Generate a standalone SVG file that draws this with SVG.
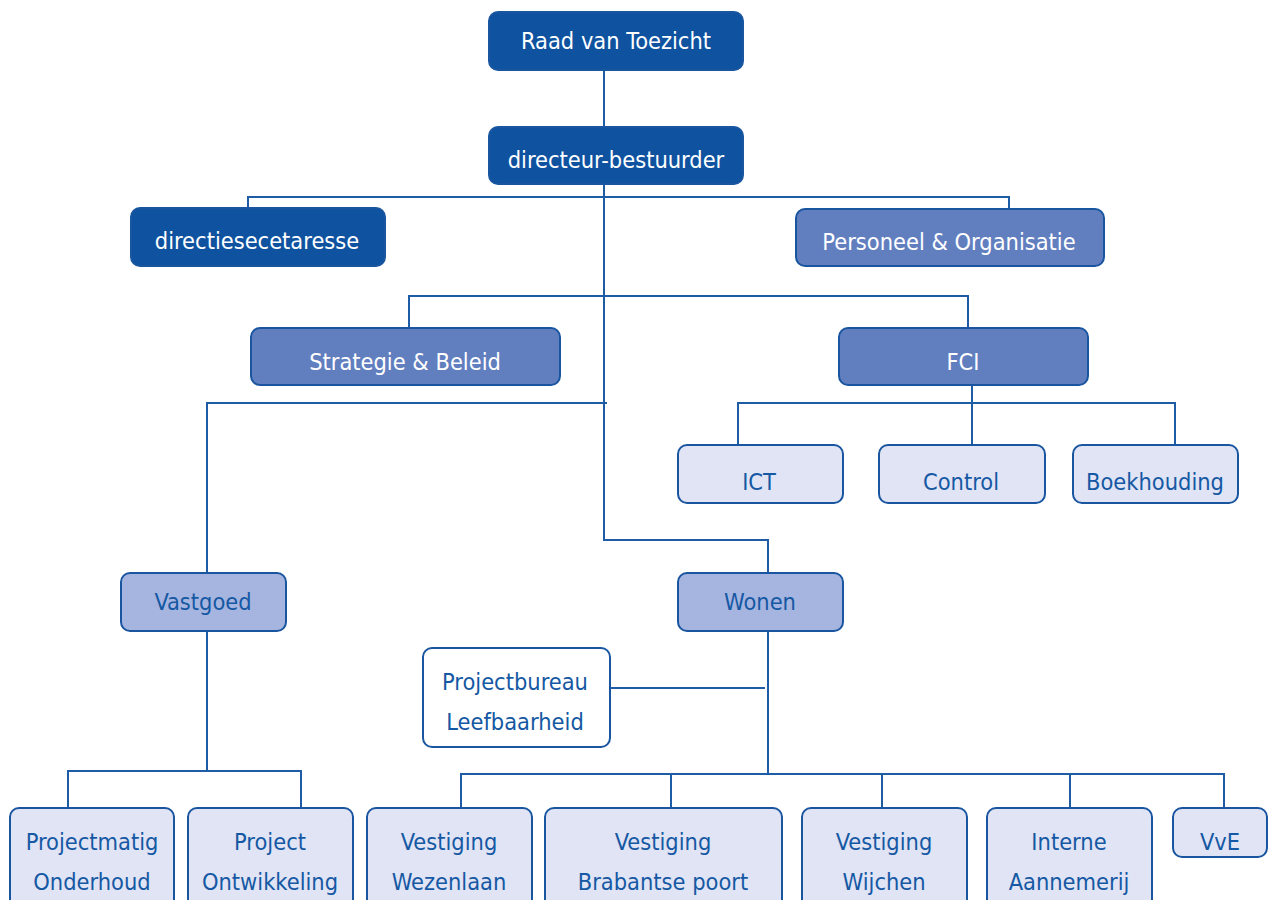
<svg xmlns="http://www.w3.org/2000/svg" width="1268" height="900" viewBox="0 0 1268 900">
<style>
.n rect{stroke:#1A56A0;stroke-width:2}
.d rect{fill:#0E52A0}
.m rect{fill:#617EBF}
.l rect{fill:#A6B5E0}
.p rect{fill:#E0E4F5}
.w rect{fill:#FFFFFF}
text{font-family:"DejaVu Sans Condensed","DejaVu Sans",sans-serif;font-size:23.4px;text-anchor:middle}
.d text,.m text{fill:#FFFFFF}
.l text,.p text,.w text{fill:#1558A3}
#connectors path{fill:none;stroke:#1E5CA6;stroke-width:2}
</style>
<g id="connectors">
<path d="M604 70V540H768V573"/>
<path d="M248 208V197H1009V209"/>
<path d="M409 328V296H968V328"/>
<path d="M207 573V403H607"/>
<path d="M972 385V445M738 445V403H1175V445"/>
<path d="M207 631V771M68 808V771H301V808"/>
<path d="M768 631V774M610 688H765"/>
<path d="M461 808V774H1224V808M671 774V808M882 774V808M1070 774V808"/>
</g>
<g id="raad" class="n d"><rect x="489" y="12" width="254" height="58" rx="9"/><text x="616" y="49">Raad van Toezicht</text></g>
<g id="directeur" class="n d"><rect x="489" y="127" width="254" height="57" rx="9"/><text x="616" y="168">directeur-bestuurder</text></g>
<g id="secretaresse" class="n d"><rect x="131" y="208" width="254" height="58" rx="9"/><text x="257" y="249">directiesecetaresse</text></g>
<g id="po" class="n m"><rect x="796" y="209" width="308" height="57" rx="9"/><text x="949" y="250">Personeel &amp; Organisatie</text></g>
<g id="strategie" class="n m"><rect x="251" y="328" width="309" height="57" rx="9"/><text x="405" y="370">Strategie &amp; Beleid</text></g>
<g id="fci" class="n m"><rect x="839" y="328" width="249" height="57" rx="9"/><text x="963" y="370">FCI</text></g>
<g id="ict" class="n p"><rect x="678" y="445" width="165" height="58" rx="9"/><text x="759" y="490">ICT</text></g>
<g id="control" class="n p"><rect x="879" y="445" width="166" height="58" rx="9"/><text x="961" y="490">Control</text></g>
<g id="boekhouding" class="n p"><rect x="1073" y="445" width="165" height="58" rx="9"/><text x="1155" y="490">Boekhouding</text></g>
<g id="vastgoed" class="n l"><rect x="121" y="573" width="165" height="58" rx="9"/><text x="203" y="610">Vastgoed</text></g>
<g id="wonen" class="n l"><rect x="678" y="573" width="165" height="58" rx="9"/><text x="760" y="610">Wonen</text></g>
<g id="projectbureau" class="n w"><rect x="423" y="648" width="187" height="99" rx="9"/><text x="515" y="690">Projectbureau</text><text x="515" y="730">Leefbaarheid</text></g>
<g id="onderhoud" class="n p"><rect x="10" y="808" width="164" height="104" rx="9"/><text x="92" y="850">Projectmatig</text><text x="92" y="890">Onderhoud</text></g>
<g id="ontwikkeling" class="n p"><rect x="188" y="808" width="165" height="104" rx="9"/><text x="270" y="850">Project</text><text x="270" y="890">Ontwikkeling</text></g>
<g id="wezenlaan" class="n p"><rect x="367" y="808" width="165" height="104" rx="9"/><text x="449" y="850">Vestiging</text><text x="449" y="890">Wezenlaan</text></g>
<g id="brabantse" class="n p"><rect x="545" y="808" width="237" height="104" rx="9"/><text x="663" y="850">Vestiging</text><text x="663" y="890">Brabantse poort</text></g>
<g id="wijchen" class="n p"><rect x="802" y="808" width="165" height="104" rx="9"/><text x="884" y="850">Vestiging</text><text x="884" y="890">Wijchen</text></g>
<g id="aannemerij" class="n p"><rect x="987" y="808" width="165" height="104" rx="9"/><text x="1069" y="850">Interne</text><text x="1069" y="890">Aannemerij</text></g>
<g id="vve" class="n p"><rect x="1173" y="808" width="94" height="49" rx="9"/><text x="1220" y="850">VvE</text></g>
</svg>
